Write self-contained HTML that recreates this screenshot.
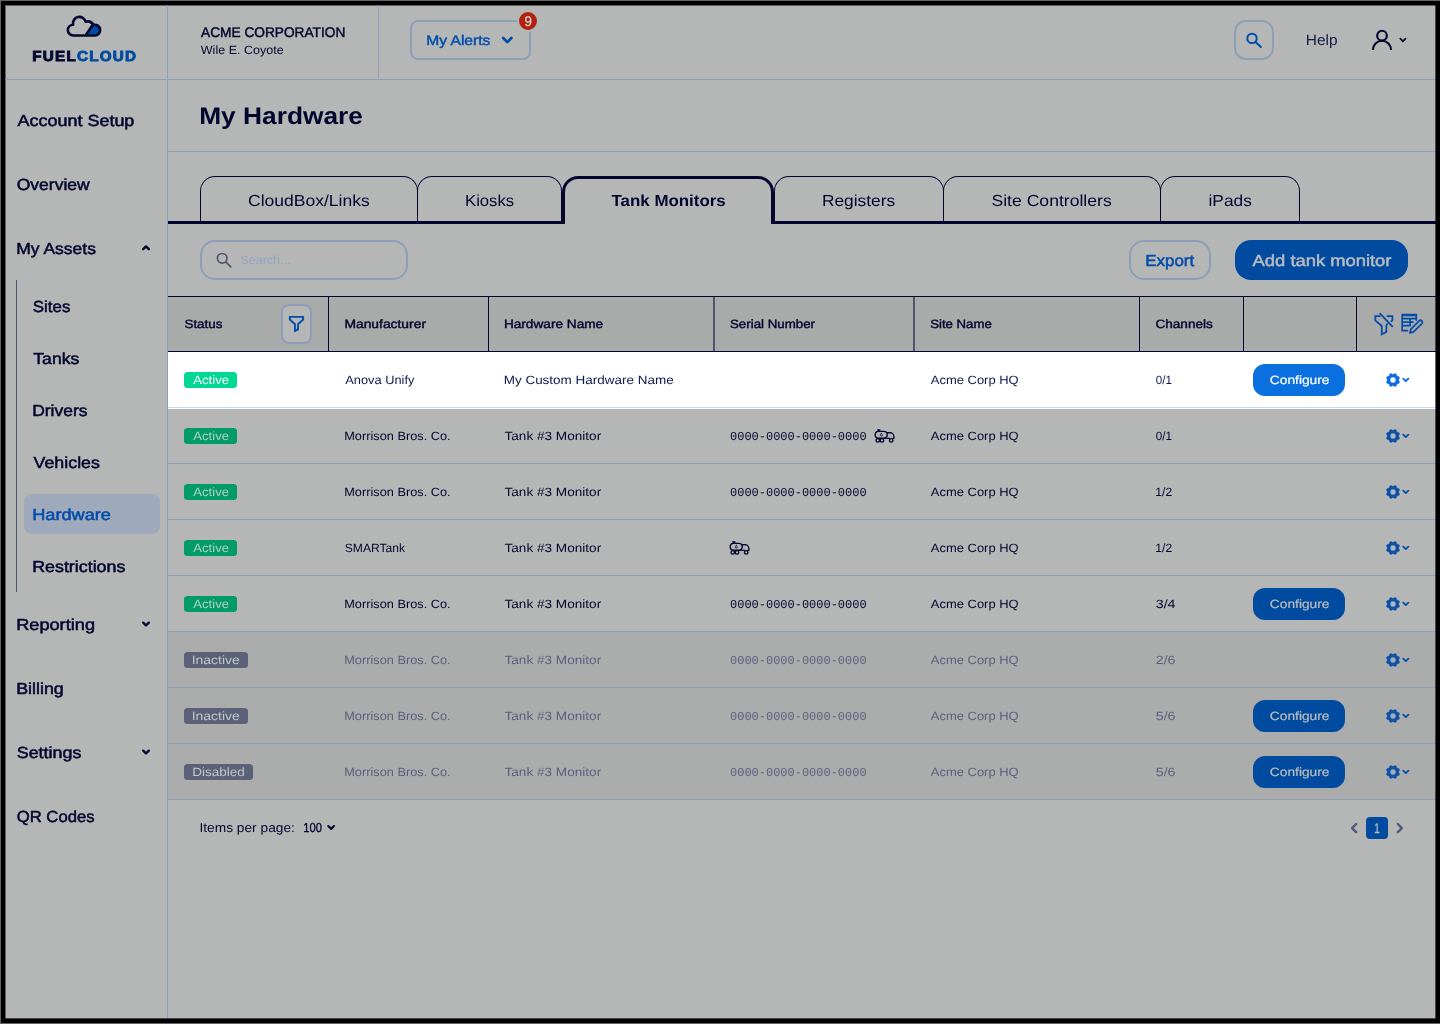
<!DOCTYPE html>
<html><head><meta charset="utf-8"><title>My Hardware</title>
<style>
html,body{margin:0;padding:0}
body{width:1440px;height:1024px;overflow:hidden;background:#000;position:relative;font-family:"Liberation Sans",sans-serif}
#edge div{position:absolute;background:#646464}
#page{will-change:transform;position:absolute;left:0;top:0;width:1440px;height:1024px;overflow:hidden}
#page>div,#page>svg,#page>span{position:absolute}
#bg{left:5px;top:5px;width:1431px;height:1014px;background:#b5b7b6}
.t{white-space:pre;line-height:1;text-rendering:geometricPrecision;transform-origin:0 50%;font-family:"Liberation Sans",sans-serif}
.ln{background:#8d9eb9}
.nv{background:#02062e}
.tab{box-sizing:border-box;border:1px solid #02062e;border-bottom:none;border-radius:15px 15px 0 0}
</style></head><body>
<div id="edge"><div style="left:0;top:0;width:1px;height:1024px"></div><div style="left:0;top:0;width:1440px;height:1px"></div><div style="left:0;top:1023px;width:1440px;height:1px"></div></div>
<div id="page">
<div id="bg"></div>
<div style="left:5px;top:5px;width:1px;height:1014px;background:rgba(0,0,0,.48)"></div><div style="left:6px;top:5px;width:1430px;height:1px;background:rgba(0,0,0,.48)"></div>
<!-- structural lines -->
<div class="ln" style="left:167px;top:5px;width:1px;height:1014px"></div>
<div class="ln" style="left:5px;top:79px;width:1431px;height:1px"></div>
<div class="ln" style="left:378px;top:5px;width:1px;height:74px"></div>
<div class="ln" style="left:168px;top:151px;width:1268px;height:1px"></div>

<!-- logo -->
<svg style="left:64px;top:13px" width="40" height="26" viewBox="0 0 40 26" fill="none">
<path d="M29.200 12.200L22.800 21.600V22.450H30.800A5.350 5.350 0 1 0 29.420 11.930Z" fill="#004aa0"/>
<path d="M9.300 22.450A5.350 5.350 0 0 1 9.140 11.750A6.400 6.400 0 0 1 21.580 8.740A7 7 0 0 1 29.420 11.930A5.350 5.350 0 1 1 30.800 22.450H9.300ZM29 11.600L22.300 21.200" stroke="#02062e" stroke-width="2.600" stroke-linecap="round" stroke-linejoin="round"/>
</svg>

<!-- My Alerts -->
<div style="left:410px;top:20px;width:121px;height:40px;box-sizing:border-box;border:2px solid #8d9eb9;border-radius:8px"></div>
<svg style="left:500px;top:35px" width="15" height="11" viewBox="0 0 15 11"><path d="M3.200 3l4.100 4.100 4.100-4.100" fill="none" stroke="#034cab" stroke-width="2.700" stroke-linecap="round" stroke-linejoin="round"/></svg>
<div style="left:517px;top:10px;width:22px;height:22px;box-sizing:border-box;border:2px solid #b5b7b6;border-radius:11px;background:#b0210e"></div>

<!-- header right -->
<div style="left:1234px;top:20px;width:40px;height:40px;box-sizing:border-box;border:2px solid #8d9eb9;border-radius:12px"></div>
<svg style="left:1245px;top:31px" width="18" height="18" viewBox="0 0 18 18" fill="none" stroke="#034cab" stroke-width="2"><circle cx="7" cy="7.400" r="4.700"/><path d="M10.500 10.900l5.400 5.100" stroke-linecap="round"/></svg>
<svg style="left:1370px;top:28px" width="24" height="24" viewBox="0 0 24 24" fill="none" stroke="#02062e" stroke-width="2.100"><circle cx="12" cy="7.650" r="4.850"/><path d="M2.900 21.900a9.100 9.100 0 0 1 18.200 0"/></svg>
<svg style="left:1398px;top:36px" width="10" height="8" viewBox="0 0 10 8"><path d="M2.300 2.600l2.600 2.700 2.600-2.700" fill="none" stroke="#02062e" stroke-width="1.700" stroke-linecap="round" stroke-linejoin="round"/></svg>

<!-- sidebar decorations -->
<div style="left:16px;top:280px;width:1px;height:312px;background:#4a5070"></div>
<div style="left:24px;top:494px;width:136px;height:40px;border-radius:8px;background:#9eaabb"></div>
<svg style="left:140px;top:243px" width="12" height="10" viewBox="0 0 12 10"><path d="M3.200 6.200l2.800-2.800 2.800 2.800" fill="none" stroke="#02062e" stroke-width="2.400" stroke-linecap="round" stroke-linejoin="round"/></svg>
<svg style="left:140px;top:619px" width="12" height="10" viewBox="0 0 12 10"><path d="M3.200 3.700l2.800 2.800 2.800-2.800" fill="none" stroke="#02062e" stroke-width="2.400" stroke-linecap="round" stroke-linejoin="round"/></svg>
<svg style="left:140px;top:747px" width="12" height="10" viewBox="0 0 12 10"><path d="M3.200 3.700l2.800 2.800 2.800-2.800" fill="none" stroke="#02062e" stroke-width="2.400" stroke-linecap="round" stroke-linejoin="round"/></svg>

<!-- tabs -->
<div class="nv" style="left:168px;top:221px;width:1268px;height:3px"></div>
<div class="tab" style="left:200px;top:176px;width:218px;height:45px"></div>
<div class="tab" style="left:417px;top:176px;width:145px;height:45px"></div>
<div class="tab" style="left:774px;top:176px;width:170px;height:45px"></div>
<div class="tab" style="left:943px;top:176px;width:218px;height:45px"></div>
<div class="tab" style="left:1160px;top:176px;width:140px;height:45px"></div>
<div style="left:562px;top:176px;width:212px;height:48px;box-sizing:border-box;border:3px solid #02062e;border-bottom:none;border-radius:16px 16px 0 0;background:#b5b7b6"></div>

<!-- toolbar -->
<div style="left:200px;top:240px;width:208px;height:40px;box-sizing:border-box;border:2px solid #8d9eb9;border-radius:15px"></div>
<svg style="left:215px;top:251px" width="18" height="18" viewBox="0 0 18 18" fill="none" stroke="#4e566e" stroke-width="1.700"><circle cx="7.200" cy="7.300" r="4.800"/><path d="M10.800 10.900l5 5" stroke-linecap="round"/></svg>
<div style="left:1129px;top:240px;width:82px;height:40px;box-sizing:border-box;border:2px solid #8d9eb9;border-radius:15px"></div>
<div style="left:1235px;top:240px;width:173px;height:40px;border-radius:16px;background:#004aa0"></div>

<!-- table header -->
<div style="left:168px;top:296px;width:1268px;height:56px;background:#a9abaa"></div>
<div class="nv" style="left:168px;top:296px;width:1268px;height:1px"></div>
<div class="nv" style="left:168px;top:351px;width:1268px;height:1px"></div>
<div class="nv" style="left:328px;top:296px;width:1px;height:56px"></div>
<div class="nv" style="left:488px;top:296px;width:1px;height:56px"></div>
<div style="left:713px;top:297px;width:2px;height:54px;background:#4d566b"></div>
<div style="left:913px;top:297px;width:2px;height:54px;background:#4d566b"></div>
<div class="nv" style="left:1139px;top:296px;width:1px;height:56px"></div>
<div class="nv" style="left:1243px;top:296px;width:1px;height:56px"></div>
<div class="nv" style="left:1356px;top:296px;width:1px;height:56px"></div>
<div style="left:281px;top:304px;width:31px;height:40px;box-sizing:border-box;border:2px solid #8d9eb9;border-radius:8px;background:#b5b7b6"></div>
<svg style="left:288px;top:315px" width="18" height="18" viewBox="0 0 18 18" fill="none" stroke="#034cab" stroke-width="1.900" stroke-linejoin="miter"><path d="M1.850 1.900H15.150V4.500L10.050 9.200V14.300L6.950 15.900V9.200L1.850 4.500Z"/></svg>
<svg style="left:1373px;top:312px" width="22" height="24" viewBox="0 0 22 24" fill="none" stroke="#034cab" stroke-width="1.750" stroke-linejoin="miter" stroke-linecap="butt"><path d="M7.500 4.200H2.300V8.400L8.750 14V22.300L13.300 20V13.600L14.700 11.400"/><path d="M13.750 4.200H19.400V8.400L17.900 9.700"/><path d="M7.100 1.700L19.300 14.300" stroke-linecap="round"/></svg>
<svg style="left:1400px;top:312px" width="24" height="24" viewBox="0 0 24 24" fill="none" stroke="#034cab" stroke-width="1.700" stroke-linejoin="miter"><path d="M16.300 8.800V2.500H2.200V18.600H8.200M2.200 3.300H16.300M2.200 6.600H16.300M2.200 10.100H13.600M2.200 13.700H10.100M10.100 6.600V14.600"/><path d="M9.900 20.900L10.900 17.200L19.200 8.900A1.900 1.900 0 0 1 21.900 11.600L13.600 19.900Z" stroke-linejoin="round"/></svg>

<div style="left:168px;top:352px;width:1268px;height:57px;background:#fff"></div>
<div style="left:168px;top:407px;width:1268px;height:1px;background:#c9dbf3"></div>
<div style="left:184px;top:372px;width:53px;height:16px;background:#02d894;border-radius:3.5px"></div>
<div style="left:1253px;top:364px;width:92px;height:32px;background:#0a70e0;border-radius:12px"></div>
<svg style="left:1386px;top:373px" width="24" height="14" viewBox="0 0 24 14"><path fill="#0a6be0" stroke="#0a6be0" stroke-width=".4" stroke-linejoin="round" fill-rule="evenodd" d="M7.00 1.50 L9.07 0.42 L10.19 0.88 L10.89 3.11 L13.12 3.81 L13.58 4.93 L12.50 7.00 L13.58 9.07 L13.12 10.19 L10.89 10.89 L10.19 13.12 L9.07 13.58 L7.00 12.50 L4.93 13.58 L3.81 13.12 L3.11 10.89 L0.88 10.19 L0.42 9.07 L1.50 7.00 L0.42 4.93 L0.88 3.81 L3.11 3.11 L3.81 0.88 L4.93 0.42Z M4.10 7a2.9 2.9 0 1 0 5.8 0a2.9 2.9 0 1 0 -5.8 0z"/><path d="M17.250 5.650L19.800 8.200L22.350 5.650" fill="none" stroke="#0a6be0" stroke-width="1.900" stroke-linecap="round" stroke-linejoin="round"/></svg>
<div style="left:168px;top:463px;width:1268px;height:1px;background:#8d9eb9"></div>
<div style="left:184px;top:428px;width:53px;height:16px;background:#019a69;border-radius:3.5px"></div>
<svg style="left:874px;top:429px" width="21" height="15" viewBox="0 0 21 15" fill="none" stroke="#02062e" stroke-width="1.400" stroke-linecap="round" stroke-linejoin="round"><rect x="1.200" y="2.400" width="12" height="6.800" rx="3.400"/><path d="M3.700 1h2.200M4.800 1v1.200M13.400 3.700h3.400c1.700 0 3.100 2.200 3.100 4.300v1.400h-1M13.400 9.400h2.100M9.800 9.400h2"/><circle cx="3.800" cy="11.400" r="1.750"/><circle cx="8" cy="11.400" r="1.750"/><circle cx="17.200" cy="11.400" r="1.750"/><path d="M7.300 4.400c-.8 .9-1 1.400-1 1.800a1 1 0 0 0 2 0c0-.4-.2-.9-1-1.800z" stroke-width=".8"/></svg>
<svg style="left:1386px;top:429px" width="24" height="14" viewBox="0 0 24 14"><path fill="#0a50a8" stroke="#0a50a8" stroke-width=".4" stroke-linejoin="round" fill-rule="evenodd" d="M7.00 1.50 L9.07 0.42 L10.19 0.88 L10.89 3.11 L13.12 3.81 L13.58 4.93 L12.50 7.00 L13.58 9.07 L13.12 10.19 L10.89 10.89 L10.19 13.12 L9.07 13.58 L7.00 12.50 L4.93 13.58 L3.81 13.12 L3.11 10.89 L0.88 10.19 L0.42 9.07 L1.50 7.00 L0.42 4.93 L0.88 3.81 L3.11 3.11 L3.81 0.88 L4.93 0.42Z M4.10 7a2.9 2.9 0 1 0 5.8 0a2.9 2.9 0 1 0 -5.8 0z"/><path d="M17.250 5.650L19.800 8.200L22.350 5.650" fill="none" stroke="#0a50a8" stroke-width="1.900" stroke-linecap="round" stroke-linejoin="round"/></svg>
<div style="left:168px;top:519px;width:1268px;height:1px;background:#8d9eb9"></div>
<div style="left:184px;top:484px;width:53px;height:16px;background:#019a69;border-radius:3.5px"></div>
<svg style="left:1386px;top:485px" width="24" height="14" viewBox="0 0 24 14"><path fill="#0a50a8" stroke="#0a50a8" stroke-width=".4" stroke-linejoin="round" fill-rule="evenodd" d="M7.00 1.50 L9.07 0.42 L10.19 0.88 L10.89 3.11 L13.12 3.81 L13.58 4.93 L12.50 7.00 L13.58 9.07 L13.12 10.19 L10.89 10.89 L10.19 13.12 L9.07 13.58 L7.00 12.50 L4.93 13.58 L3.81 13.12 L3.11 10.89 L0.88 10.19 L0.42 9.07 L1.50 7.00 L0.42 4.93 L0.88 3.81 L3.11 3.11 L3.81 0.88 L4.93 0.42Z M4.10 7a2.9 2.9 0 1 0 5.8 0a2.9 2.9 0 1 0 -5.8 0z"/><path d="M17.250 5.650L19.800 8.200L22.350 5.650" fill="none" stroke="#0a50a8" stroke-width="1.900" stroke-linecap="round" stroke-linejoin="round"/></svg>
<div style="left:168px;top:575px;width:1268px;height:1px;background:#8d9eb9"></div>
<div style="left:184px;top:540px;width:53px;height:16px;background:#019a69;border-radius:3.5px"></div>
<svg style="left:729px;top:541px" width="21" height="15" viewBox="0 0 21 15" fill="none" stroke="#02062e" stroke-width="1.400" stroke-linecap="round" stroke-linejoin="round"><rect x="1.200" y="2.400" width="12" height="6.800" rx="3.400"/><path d="M3.700 1h2.200M4.800 1v1.200M13.400 3.700h3.400c1.700 0 3.100 2.200 3.100 4.300v1.400h-1M13.400 9.400h2.100M9.800 9.400h2"/><circle cx="3.800" cy="11.400" r="1.750"/><circle cx="8" cy="11.400" r="1.750"/><circle cx="17.200" cy="11.400" r="1.750"/><path d="M7.300 4.400c-.8 .9-1 1.400-1 1.800a1 1 0 0 0 2 0c0-.4-.2-.9-1-1.800z" stroke-width=".8"/></svg>
<svg style="left:1386px;top:541px" width="24" height="14" viewBox="0 0 24 14"><path fill="#0a50a8" stroke="#0a50a8" stroke-width=".4" stroke-linejoin="round" fill-rule="evenodd" d="M7.00 1.50 L9.07 0.42 L10.19 0.88 L10.89 3.11 L13.12 3.81 L13.58 4.93 L12.50 7.00 L13.58 9.07 L13.12 10.19 L10.89 10.89 L10.19 13.12 L9.07 13.58 L7.00 12.50 L4.93 13.58 L3.81 13.12 L3.11 10.89 L0.88 10.19 L0.42 9.07 L1.50 7.00 L0.42 4.93 L0.88 3.81 L3.11 3.11 L3.81 0.88 L4.93 0.42Z M4.10 7a2.9 2.9 0 1 0 5.8 0a2.9 2.9 0 1 0 -5.8 0z"/><path d="M17.250 5.650L19.800 8.200L22.350 5.650" fill="none" stroke="#0a50a8" stroke-width="1.900" stroke-linecap="round" stroke-linejoin="round"/></svg>
<div style="left:168px;top:631px;width:1268px;height:1px;background:#8d9eb9"></div>
<div style="left:184px;top:596px;width:53px;height:16px;background:#019a69;border-radius:3.5px"></div>
<div style="left:1253px;top:588px;width:92px;height:32px;background:#004aa0;border-radius:12px"></div>
<svg style="left:1386px;top:597px" width="24" height="14" viewBox="0 0 24 14"><path fill="#0a50a8" stroke="#0a50a8" stroke-width=".4" stroke-linejoin="round" fill-rule="evenodd" d="M7.00 1.50 L9.07 0.42 L10.19 0.88 L10.89 3.11 L13.12 3.81 L13.58 4.93 L12.50 7.00 L13.58 9.07 L13.12 10.19 L10.89 10.89 L10.19 13.12 L9.07 13.58 L7.00 12.50 L4.93 13.58 L3.81 13.12 L3.11 10.89 L0.88 10.19 L0.42 9.07 L1.50 7.00 L0.42 4.93 L0.88 3.81 L3.11 3.11 L3.81 0.88 L4.93 0.42Z M4.10 7a2.9 2.9 0 1 0 5.8 0a2.9 2.9 0 1 0 -5.8 0z"/><path d="M17.250 5.650L19.800 8.200L22.350 5.650" fill="none" stroke="#0a50a8" stroke-width="1.900" stroke-linecap="round" stroke-linejoin="round"/></svg>
<div style="left:168px;top:632px;width:1268px;height:56px;background:#abadac"></div>
<div style="left:168px;top:687px;width:1268px;height:1px;background:#8d9eb9"></div>
<div style="left:184px;top:652px;width:64px;height:16px;background:#5a6179;border-radius:3.5px"></div>
<svg style="left:1386px;top:653px" width="24" height="14" viewBox="0 0 24 14"><path fill="#0a50a8" stroke="#0a50a8" stroke-width=".4" stroke-linejoin="round" fill-rule="evenodd" d="M7.00 1.50 L9.07 0.42 L10.19 0.88 L10.89 3.11 L13.12 3.81 L13.58 4.93 L12.50 7.00 L13.58 9.07 L13.12 10.19 L10.89 10.89 L10.19 13.12 L9.07 13.58 L7.00 12.50 L4.93 13.58 L3.81 13.12 L3.11 10.89 L0.88 10.19 L0.42 9.07 L1.50 7.00 L0.42 4.93 L0.88 3.81 L3.11 3.11 L3.81 0.88 L4.93 0.42Z M4.10 7a2.9 2.9 0 1 0 5.8 0a2.9 2.9 0 1 0 -5.8 0z"/><path d="M17.250 5.650L19.800 8.200L22.350 5.650" fill="none" stroke="#0a50a8" stroke-width="1.900" stroke-linecap="round" stroke-linejoin="round"/></svg>
<div style="left:168px;top:688px;width:1268px;height:56px;background:#abadac"></div>
<div style="left:168px;top:743px;width:1268px;height:1px;background:#8d9eb9"></div>
<div style="left:184px;top:708px;width:64px;height:16px;background:#5a6179;border-radius:3.5px"></div>
<div style="left:1253px;top:700px;width:92px;height:32px;background:#004aa0;border-radius:12px"></div>
<svg style="left:1386px;top:709px" width="24" height="14" viewBox="0 0 24 14"><path fill="#0a50a8" stroke="#0a50a8" stroke-width=".4" stroke-linejoin="round" fill-rule="evenodd" d="M7.00 1.50 L9.07 0.42 L10.19 0.88 L10.89 3.11 L13.12 3.81 L13.58 4.93 L12.50 7.00 L13.58 9.07 L13.12 10.19 L10.89 10.89 L10.19 13.12 L9.07 13.58 L7.00 12.50 L4.93 13.58 L3.81 13.12 L3.11 10.89 L0.88 10.19 L0.42 9.07 L1.50 7.00 L0.42 4.93 L0.88 3.81 L3.11 3.11 L3.81 0.88 L4.93 0.42Z M4.10 7a2.9 2.9 0 1 0 5.8 0a2.9 2.9 0 1 0 -5.8 0z"/><path d="M17.250 5.650L19.800 8.200L22.350 5.650" fill="none" stroke="#0a50a8" stroke-width="1.900" stroke-linecap="round" stroke-linejoin="round"/></svg>
<div style="left:168px;top:744px;width:1268px;height:56px;background:#abadac"></div>
<div style="left:168px;top:799px;width:1268px;height:1px;background:#8d9eb9"></div>
<div style="left:184px;top:764px;width:69px;height:16px;background:#5a6179;border-radius:3.5px"></div>
<div style="left:1253px;top:756px;width:92px;height:32px;background:#004aa0;border-radius:12px"></div>
<svg style="left:1386px;top:765px" width="24" height="14" viewBox="0 0 24 14"><path fill="#0a50a8" stroke="#0a50a8" stroke-width=".4" stroke-linejoin="round" fill-rule="evenodd" d="M7.00 1.50 L9.07 0.42 L10.19 0.88 L10.89 3.11 L13.12 3.81 L13.58 4.93 L12.50 7.00 L13.58 9.07 L13.12 10.19 L10.89 10.89 L10.19 13.12 L9.07 13.58 L7.00 12.50 L4.93 13.58 L3.81 13.12 L3.11 10.89 L0.88 10.19 L0.42 9.07 L1.50 7.00 L0.42 4.93 L0.88 3.81 L3.11 3.11 L3.81 0.88 L4.93 0.42Z M4.10 7a2.9 2.9 0 1 0 5.8 0a2.9 2.9 0 1 0 -5.8 0z"/><path d="M17.250 5.650L19.800 8.200L22.350 5.650" fill="none" stroke="#0a50a8" stroke-width="1.900" stroke-linecap="round" stroke-linejoin="round"/></svg>

<!-- footer -->
<svg style="left:325px;top:822px" width="12" height="12" viewBox="0 0 12 12"><path d="M3.300 4.100l2.850 2.850 2.850-2.850" fill="none" stroke="#02062e" stroke-width="2.100" stroke-linecap="round" stroke-linejoin="round"/></svg>
<div style="left:1366px;top:817px;width:22px;height:22px;border-radius:4px;background:#004aa0"></div>
<svg style="left:1348px;top:821px" width="12" height="14" viewBox="0 0 12 14"><path d="M8.200 3L4.100 7.100l4.100 4.100" fill="none" stroke="#4e5a78" stroke-width="2.400" stroke-linecap="round" stroke-linejoin="round"/></svg>
<svg style="left:1394px;top:821px" width="12" height="14" viewBox="0 0 12 14"><path d="M3.800 3L7.900 7.100l-4.100 4.100" fill="none" stroke="#4e5a78" stroke-width="2.400" stroke-linecap="round" stroke-linejoin="round"/></svg>

<span class="t" style="left:201px;top:25px;font-size:14px;color:#02062e;-webkit-text-stroke:0.45px #02062e;transform:translateX(0.02px) scaleX(0.9779);">ACME CORPORATION</span>
<span class="t" style="left:200px;top:44px;font-size:12px;color:#02062e;transform:translateX(0.80px) scaleX(1.0438);">Wile E. Coyote</span>
<span class="t" style="left:426px;top:33px;font-size:14px;color:#034cab;-webkit-text-stroke:0.45px #034cab;transform:translateX(0.16px) scaleX(1.1157);">My Alerts</span>
<span class="t" style="left:1305px;top:33px;font-size:15px;color:#121a44;transform:translateX(0.81px) scaleX(1.0310);">Help</span>
<span class="t" style="left:199px;top:105px;font-size:24px;color:#02062e;font-weight:700;transform:translateX(0.16px) scaleX(1.0966);">My Hardware</span>
<span class="t" style="left:32px;top:50px;font-size:14.5px;color:#02062e;letter-spacing:1.2px;font-weight:700;-webkit-text-stroke:0.9px #02062e;transform:translateX(0.22px) scaleX(1.0488);">FUEL<span style="color:#004aa0;-webkit-text-stroke-color:#004aa0">CLOUD</span></span>
<span class="t" style="left:17px;top:114px;font-size:16px;color:#02062e;-webkit-text-stroke:0.5px #02062e;transform:translateX(0.58px) scaleX(1.1221);">Account Setup</span>
<span class="t" style="left:16px;top:178px;font-size:16px;color:#02062e;-webkit-text-stroke:0.5px #02062e;transform:translateX(0.75px) scaleX(1.0932);">Overview</span>
<span class="t" style="left:16px;top:242px;font-size:16px;color:#02062e;-webkit-text-stroke:0.5px #02062e;transform:translateX(0.21px) scaleX(1.0937);">My Assets</span>
<span class="t" style="left:16px;top:618px;font-size:16px;color:#02062e;-webkit-text-stroke:0.5px #02062e;transform:translateX(0.16px) scaleX(1.1363);">Reporting</span>
<span class="t" style="left:16px;top:682px;font-size:16px;color:#02062e;-webkit-text-stroke:0.5px #02062e;transform:translateX(0.19px) scaleX(1.1146);">Billing</span>
<span class="t" style="left:16px;top:746px;font-size:16px;color:#02062e;-webkit-text-stroke:0.5px #02062e;transform:translateX(0.74px) scaleX(1.1175);">Settings</span>
<span class="t" style="left:16px;top:810px;font-size:16px;color:#02062e;-webkit-text-stroke:0.5px #02062e;transform:translateX(0.78px) scaleX(1.0400);">QR Codes</span>
<span class="t" style="left:32px;top:300px;font-size:16px;color:#02062e;-webkit-text-stroke:0.5px #02062e;transform:translateX(0.77px) scaleX(1.0561);">Sites</span>
<span class="t" style="left:33px;top:352px;font-size:16px;color:#02062e;-webkit-text-stroke:0.5px #02062e;transform:translateX(0.30px) scaleX(1.1012);">Tanks</span>
<span class="t" style="left:32px;top:404px;font-size:16px;color:#02062e;-webkit-text-stroke:0.5px #02062e;transform:translateX(0.21px) scaleX(1.0904);">Drivers</span>
<span class="t" style="left:33px;top:456px;font-size:16px;color:#02062e;-webkit-text-stroke:0.5px #02062e;transform:translateX(0.58px) scaleX(1.1126);">Vehicles</span>
<span class="t" style="left:32px;top:508px;font-size:16px;color:#034cab;-webkit-text-stroke:0.5px #034cab;transform:translateX(0.16px) scaleX(1.1353);">Hardware</span>
<span class="t" style="left:32px;top:560px;font-size:16px;color:#02062e;-webkit-text-stroke:0.5px #02062e;transform:translateX(0.19px) scaleX(1.1149);">Restrictions</span>
<span class="t" style="left:247px;top:194px;font-size:16px;color:#02062e;transform:translateX(0.98px) scaleX(1.0952);">CloudBox/Links</span>
<span class="t" style="left:464px;top:194px;font-size:16px;color:#02062e;transform:translateX(1.00px) scaleX(1.0431);">Kiosks</span>
<span class="t" style="left:611px;top:194px;font-size:16px;color:#02062e;font-weight:700;transform:translateX(0.54px) scaleX(1.0555);">Tank Monitors</span>
<span class="t" style="left:821px;top:194px;font-size:16px;color:#02062e;transform:translateX(0.95px) scaleX(1.0829);">Registers</span>
<span class="t" style="left:991px;top:194px;font-size:16px;color:#02062e;transform:translateX(0.48px) scaleX(1.0991);">Site Controllers</span>
<span class="t" style="left:1208px;top:194px;font-size:16px;color:#02062e;transform:translateX(0.47px) scaleX(1.0831);">iPads</span>
<span class="t" style="left:240px;top:254px;font-size:12px;color:#93a3be;transform:translateX(0.28px) scaleX(1.0473);">Search...</span>
<span class="t" style="left:1145px;top:254px;font-size:16px;color:#034cab;-webkit-text-stroke:0.5px #034cab;transform:translateX(0.24px) scaleX(1.0593);">Export</span>
<span class="t" style="left:1252px;top:254px;font-size:16px;color:#b9bcbf;-webkit-text-stroke:0.5px #b9bcbf;transform:translateX(0.59px) scaleX(1.1480);">Add tank monitor</span>
<span class="t" style="left:184px;top:318px;font-size:12px;color:#02062e;-webkit-text-stroke:0.4px #02062e;transform:translateX(0.47px) scaleX(1.1138);">Status</span>
<span class="t" style="left:344px;top:318px;font-size:12px;color:#02062e;-webkit-text-stroke:0.4px #02062e;transform:translateX(0.38px) scaleX(1.1545);">Manufacturer</span>
<span class="t" style="left:503px;top:318px;font-size:12px;color:#02062e;-webkit-text-stroke:0.4px #02062e;transform:translateX(0.89px) scaleX(1.1364);">Hardware Name</span>
<span class="t" style="left:729px;top:318px;font-size:12px;color:#02062e;-webkit-text-stroke:0.4px #02062e;transform:translateX(0.97px) scaleX(1.1086);">Serial Number</span>
<span class="t" style="left:930px;top:318px;font-size:12px;color:#02062e;-webkit-text-stroke:0.4px #02062e;transform:translateX(0.17px) scaleX(1.0993);">Site Name</span>
<span class="t" style="left:1155px;top:318px;font-size:12px;color:#02062e;-webkit-text-stroke:0.4px #02062e;transform:translateX(0.46px) scaleX(1.1306);">Channels</span>
<span class="t" style="left:193px;top:374px;font-size:12px;color:#fff;transform:translateX(0.30px) scaleX(1.0915);">Active</span>
<span class="t" style="left:345px;top:374px;font-size:12px;color:#0f1850;transform:translateX(0.30px) scaleX(1.0687);">Anova Unify</span>
<span class="t" style="left:503px;top:374px;font-size:12px;color:#0f1850;transform:translateX(0.68px) scaleX(1.1232);">My Custom Hardware Name</span>
<span class="t" style="left:930px;top:374px;font-size:12px;color:#0f1850;transform:translateX(0.80px) scaleX(1.0799);">Acme Corp HQ</span>
<span class="t" style="left:1155px;top:374px;font-size:12px;color:#0f1850;transform:translateX(0.82px) scaleX(0.9651);">0/1</span>
<span class="t" style="left:1269px;top:374px;font-size:12px;color:#fff;-webkit-text-stroke:0.2px #fff;transform:translateX(0.84px) scaleX(1.1465);">Configure</span>
<span class="t" style="left:193px;top:430px;font-size:12px;color:#b2d0c3;transform:translateX(0.30px) scaleX(1.0915);">Active</span>
<span class="t" style="left:344px;top:430px;font-size:12px;color:#02062e;transform:translateX(0.24px) scaleX(1.0633);">Morrison Bros. Co.</span>
<span class="t" style="left:504px;top:430px;font-size:12px;color:#02062e;transform:translateX(0.52px) scaleX(1.1318);">Tank #3 Monitor</span>
<span class="t" style="left:730px;top:431px;font-size:12px;color:#02062e;font-family:'Liberation Mono',monospace;transform:translateX(0.05px) scaleX(0.9978);">0000-0000-0000-0000</span>
<span class="t" style="left:930px;top:430px;font-size:12px;color:#02062e;transform:translateX(0.80px) scaleX(1.0799);">Acme Corp HQ</span>
<span class="t" style="left:1155px;top:430px;font-size:12px;color:#02062e;transform:translateX(0.82px) scaleX(0.9651);">0/1</span>
<span class="t" style="left:193px;top:486px;font-size:12px;color:#b2d0c3;transform:translateX(0.30px) scaleX(1.0915);">Active</span>
<span class="t" style="left:344px;top:486px;font-size:12px;color:#02062e;transform:translateX(0.24px) scaleX(1.0633);">Morrison Bros. Co.</span>
<span class="t" style="left:504px;top:486px;font-size:12px;color:#02062e;transform:translateX(0.52px) scaleX(1.1318);">Tank #3 Monitor</span>
<span class="t" style="left:730px;top:487px;font-size:12px;color:#02062e;font-family:'Liberation Mono',monospace;transform:translateX(0.05px) scaleX(0.9978);">0000-0000-0000-0000</span>
<span class="t" style="left:930px;top:486px;font-size:12px;color:#02062e;transform:translateX(0.80px) scaleX(1.0799);">Acme Corp HQ</span>
<span class="t" style="left:1155px;top:486px;font-size:12px;color:#02062e;transform:translateX(0.29px) scaleX(1.0133);">1/2</span>
<span class="t" style="left:193px;top:542px;font-size:12px;color:#b2d0c3;transform:translateX(0.30px) scaleX(1.0915);">Active</span>
<span class="t" style="left:344px;top:542px;font-size:12px;color:#02062e;transform:translateX(0.80px) scaleX(1.0076);">SMARTank</span>
<span class="t" style="left:504px;top:542px;font-size:12px;color:#02062e;transform:translateX(0.52px) scaleX(1.1318);">Tank #3 Monitor</span>
<span class="t" style="left:930px;top:542px;font-size:12px;color:#02062e;transform:translateX(0.80px) scaleX(1.0799);">Acme Corp HQ</span>
<span class="t" style="left:1155px;top:542px;font-size:12px;color:#02062e;transform:translateX(0.29px) scaleX(1.0133);">1/2</span>
<span class="t" style="left:193px;top:598px;font-size:12px;color:#b2d0c3;transform:translateX(0.30px) scaleX(1.0915);">Active</span>
<span class="t" style="left:344px;top:598px;font-size:12px;color:#02062e;transform:translateX(0.24px) scaleX(1.0633);">Morrison Bros. Co.</span>
<span class="t" style="left:504px;top:598px;font-size:12px;color:#02062e;transform:translateX(0.52px) scaleX(1.1318);">Tank #3 Monitor</span>
<span class="t" style="left:730px;top:599px;font-size:12px;color:#02062e;font-family:'Liberation Mono',monospace;transform:translateX(0.05px) scaleX(0.9978);">0000-0000-0000-0000</span>
<span class="t" style="left:930px;top:598px;font-size:12px;color:#02062e;transform:translateX(0.80px) scaleX(1.0799);">Acme Corp HQ</span>
<span class="t" style="left:1155px;top:598px;font-size:12px;color:#02062e;transform:translateX(0.71px) scaleX(1.1873);">3/4</span>
<span class="t" style="left:1269px;top:598px;font-size:12px;color:#b9bcbf;-webkit-text-stroke:0.2px #b9bcbf;transform:translateX(0.84px) scaleX(1.1465);">Configure</span>
<span class="t" style="left:191px;top:654px;font-size:12px;color:#c2c4c8;transform:translateX(0.64px) scaleX(1.1623);">Inactive</span>
<span class="t" style="left:344px;top:654px;font-size:12px;color:#59627d;transform:translateX(0.24px) scaleX(1.0633);">Morrison Bros. Co.</span>
<span class="t" style="left:504px;top:654px;font-size:12px;color:#59627d;transform:translateX(0.52px) scaleX(1.1318);">Tank #3 Monitor</span>
<span class="t" style="left:730px;top:655px;font-size:12px;color:#59627d;font-family:'Liberation Mono',monospace;transform:translateX(0.05px) scaleX(0.9978);">0000-0000-0000-0000</span>
<span class="t" style="left:930px;top:654px;font-size:12px;color:#59627d;transform:translateX(0.80px) scaleX(1.0799);">Acme Corp HQ</span>
<span class="t" style="left:1155px;top:654px;font-size:12px;color:#59627d;transform:translateX(0.71px) scaleX(1.1873);">2/6</span>
<span class="t" style="left:191px;top:710px;font-size:12px;color:#c2c4c8;transform:translateX(0.64px) scaleX(1.1623);">Inactive</span>
<span class="t" style="left:344px;top:710px;font-size:12px;color:#59627d;transform:translateX(0.24px) scaleX(1.0633);">Morrison Bros. Co.</span>
<span class="t" style="left:504px;top:710px;font-size:12px;color:#59627d;transform:translateX(0.52px) scaleX(1.1318);">Tank #3 Monitor</span>
<span class="t" style="left:730px;top:711px;font-size:12px;color:#59627d;font-family:'Liberation Mono',monospace;transform:translateX(0.05px) scaleX(0.9978);">0000-0000-0000-0000</span>
<span class="t" style="left:930px;top:710px;font-size:12px;color:#59627d;transform:translateX(0.80px) scaleX(1.0799);">Acme Corp HQ</span>
<span class="t" style="left:1155px;top:710px;font-size:12px;color:#59627d;transform:translateX(0.71px) scaleX(1.1873);">5/6</span>
<span class="t" style="left:1269px;top:710px;font-size:12px;color:#b9bcbf;-webkit-text-stroke:0.2px #b9bcbf;transform:translateX(0.84px) scaleX(1.1465);">Configure</span>
<span class="t" style="left:192px;top:766px;font-size:12px;color:#c2c4c8;transform:translateX(0.17px) scaleX(1.1267);">Disabled</span>
<span class="t" style="left:344px;top:766px;font-size:12px;color:#59627d;transform:translateX(0.24px) scaleX(1.0633);">Morrison Bros. Co.</span>
<span class="t" style="left:504px;top:766px;font-size:12px;color:#59627d;transform:translateX(0.52px) scaleX(1.1318);">Tank #3 Monitor</span>
<span class="t" style="left:730px;top:767px;font-size:12px;color:#59627d;font-family:'Liberation Mono',monospace;transform:translateX(0.05px) scaleX(0.9978);">0000-0000-0000-0000</span>
<span class="t" style="left:930px;top:766px;font-size:12px;color:#59627d;transform:translateX(0.80px) scaleX(1.0799);">Acme Corp HQ</span>
<span class="t" style="left:1155px;top:766px;font-size:12px;color:#59627d;transform:translateX(0.71px) scaleX(1.1873);">5/6</span>
<span class="t" style="left:1269px;top:766px;font-size:12px;color:#b9bcbf;-webkit-text-stroke:0.2px #b9bcbf;transform:translateX(0.84px) scaleX(1.1465);">Configure</span>
<span class="t" style="left:199px;top:821px;font-size:13px;color:#02062e;transform:translateX(0.48px) scaleX(1.0557);">Items per page:</span>
<span class="t" style="left:303px;top:821px;font-size:13px;color:#02062e;-webkit-text-stroke:0.3px #02062e;transform:translateX(0.37px) scaleX(0.8564);">100</span>
<span class="t" style="left:1374px;top:821px;font-size:14px;color:#b9bcbf;-webkit-text-stroke:0.3px #b9bcbf;transform:translateX(0.19px) scaleX(0.7143);">1</span>
<span class="t" style="left:524px;top:14px;font-size:14px;color:#d6d0ce;-webkit-text-stroke:0.3px #d6d0ce;transform:translateX(0.43px) scaleX(0.9559);">9</span>
<div style="left:1435px;top:5px;width:1px;height:1014px;background:rgba(0,0,0,.6)"></div><div style="left:5px;top:1018px;width:1431px;height:1px;background:rgba(0,0,0,.62)"></div>
</div>
</body></html>
